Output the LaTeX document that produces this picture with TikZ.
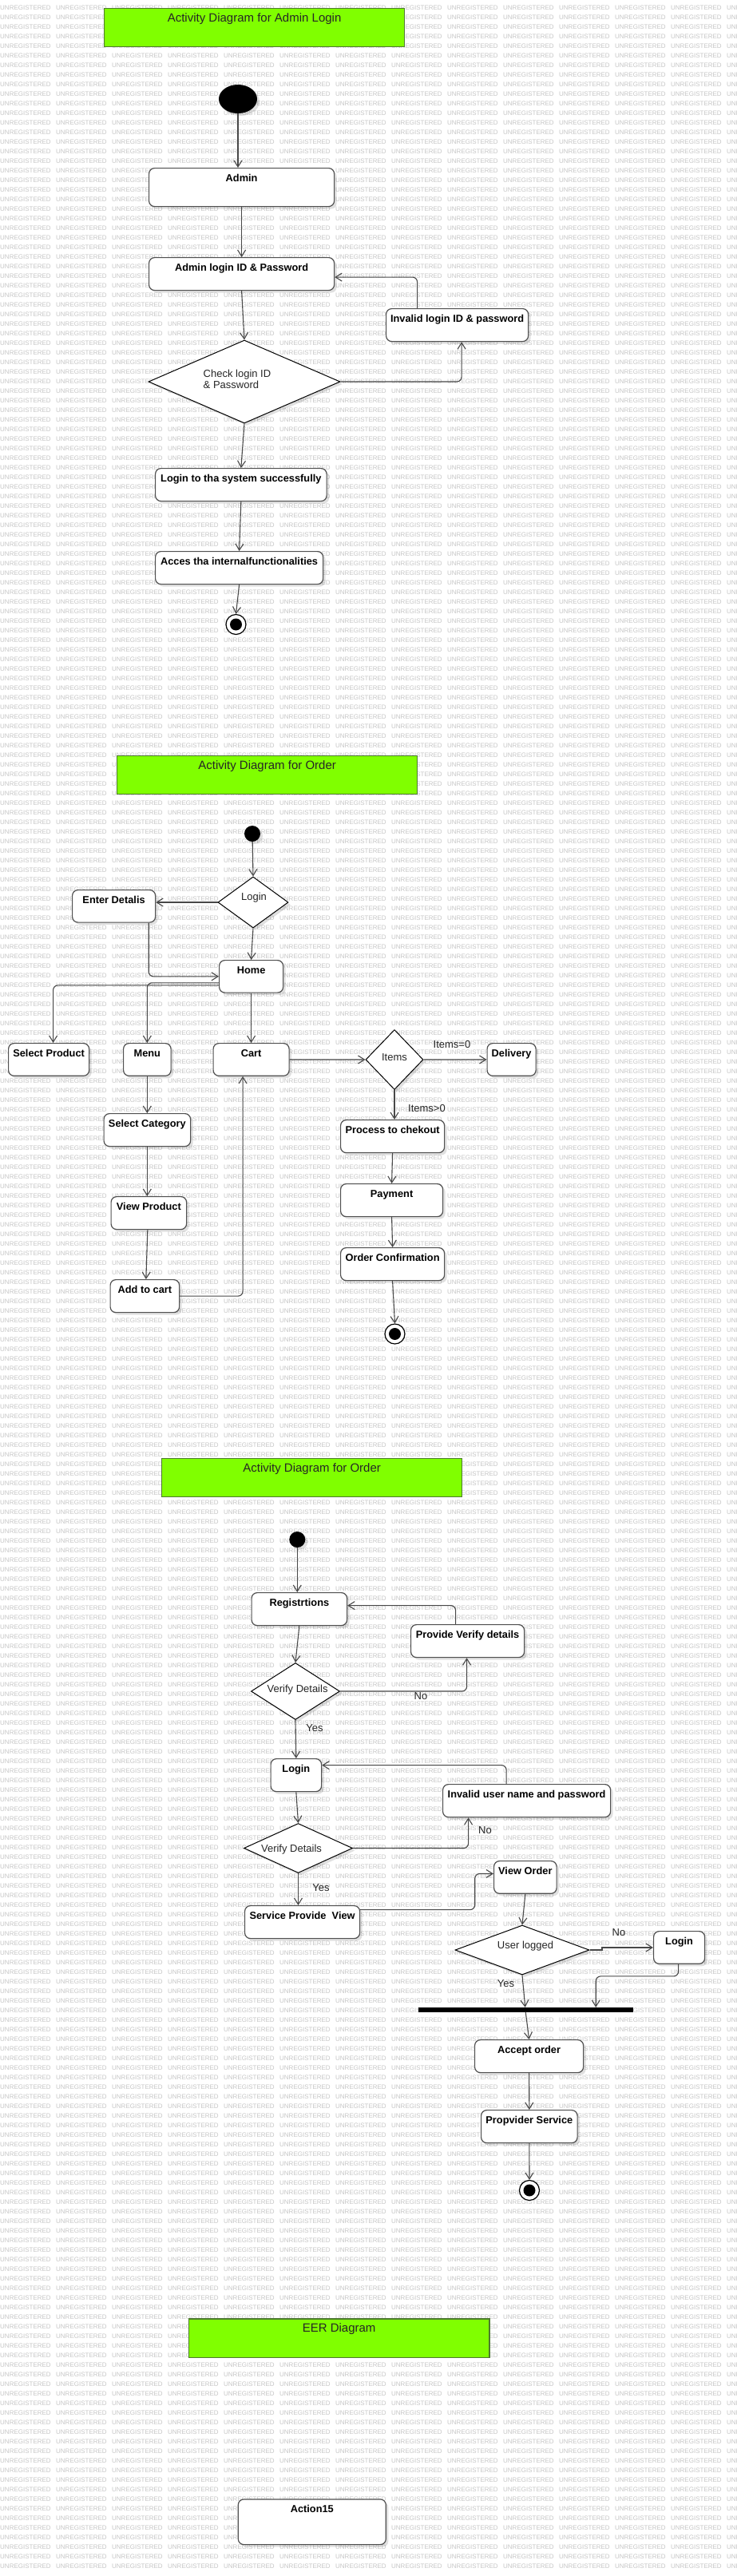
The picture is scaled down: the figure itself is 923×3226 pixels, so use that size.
\documentclass[tikz,border=0pt]{standalone}
\usepackage{fontspec}
\setmainfont{Liberation Sans}
\usetikzlibrary{arrows.meta,shapes.geometric,shadows,calc}
\definecolor{boxc}{HTML}{505050}
\definecolor{linec}{HTML}{484848}
\definecolor{titlefill}{HTML}{80FF00}
\definecolor{titledraw}{HTML}{4E7A30}
\definecolor{wmc}{HTML}{C6C6C6}
\newcommand\wmword{\makebox[70pt][l]{UNREGISTERED}}
\newcommand\wmline{\wmword\wmword\wmword\wmword\wmword\wmword\wmword\wmword\wmword\wmword\wmword\wmword\wmword\wmword}
\begin{document}
\begin{tikzpicture}[x=1pt,y=-1pt,
  shad/.style={drop shadow={shadow xshift=3pt,shadow yshift=-3pt,opacity=0.12,fill=black}},
  box/.style 2 args={draw=boxc,line width=1.2pt,fill=white,rounded corners=7pt,anchor=north west,
    inner xsep=1pt,inner ysep=0pt,text height=17pt,minimum width=#1,text depth=#2pt,
    font=\bfseries\fontsize{12.8}{15}\selectfont,shad},
  ttl/.style 2 args={draw=titledraw,line width=1.2pt,fill=titlefill,anchor=north west,
    inner xsep=0pt,inner ysep=0pt,text height=17pt,minimum width=#1,text depth=#2pt,
    text=black!85,font=\fontsize{15}{18}\selectfont},
  dia/.style 2 args={diamond,draw=black,line width=1pt,fill=white,inner sep=0pt,
    minimum width=#1,minimum height=#2,shad},
  dtxt/.style={inner sep=0pt,text=black!85,font=\fontsize{13}{13.7}\selectfont},
  lab/.style={inner sep=0pt,text=black!85,font=\fontsize{13}{15}\selectfont},
  initn/.style={circle,fill=black,minimum size=20,inner sep=0pt,shad},
  fin/.style={circle,draw=black,line width=1.2pt,fill=white,minimum size=25,inner sep=0pt,
    path picture={\fill[black] (path picture bounding box.center) circle (7.5pt);}},
  forkbar/.style={fill=black,draw=none,minimum width=269.5,minimum height=5.5,inner sep=0pt},
  conn/.style={draw=linec,line width=1.1pt,rounded corners=6pt,-{Straight Barb[length=8pt,width=10pt]}},
  wm/.style={inner sep=0pt,text=wmc,font=\fontsize{8}{8}\selectfont}
]
\useasboundingbox (0,0) rectangle (923,3226);
\fill[white] (0,0) rectangle (923,3226);
% watermark
\begin{scope}
\clip (0,0) rectangle (923,3226);
\foreach \k in {0,...,267}{
  \node[wm,anchor=base west] (wm\k) at (0,{12+12*\k}) {\wmline};
}
\end{scope}

% ---------------- Diagram 1 ----------------
\node[ttl={376}{31}] (t1) at (130,10) {Activity Diagram for Admin Login};
\node[ellipse,fill=black,minimum width=48,minimum height=36,inner sep=0pt,shad] (s1) at (298,124) {};
\node[box={232}{31}] (admin) at (186,210) {Admin};
\node[box={232}{24}] (alogin) at (186,322) {Admin login ID \& Password};
\node[box={178}{24}] (inval) at (483,386) {Invalid login ID \& password};
\node[dia={240}{104}] (check) at (306,478) {};
\node[dtxt,align=left] (checkT) at (297,475) {Check login ID\\\& Password};
\node[box={214.5}{24}] (succ) at (194,586) {Login to tha system successfully};
\node[box={210}{24}] (acc) at (194,690) {Acces tha internalfunctionalities};
\node[fin] (f1) at (295.5,782) {};

\draw[conn] (s1) -- (admin.north -| s1);
\draw[conn] (admin.south) -- (alogin.north);
\draw[conn] (alogin.south) -- (check.north);
\draw[conn] (check.south) -- (succ.north);
\draw[conn] (succ.south) -- (acc.north);
\draw[conn] (acc.south) -- (f1.north);
\draw[conn] (check.east) -| ($(inval.south)+(5.5,0)$);
\draw[conn] ($(inval.north)+(-50,0)$) |- ($(alogin.east)+(0,4)$);

% ---------------- Diagram 2 ----------------
\node[ttl={376}{30.5}] (t2) at (146,946) {Activity Diagram for Order};
\node[initn] (s2) at (316,1044) {};
\node[dia={88}{64}] (logind) at (317,1130) {};
\node[dtxt] (logindT) at (318,1124) {Login};
\node[box={104}{23.5}] (enter) at (90,1114) {Enter Detalis};
\node[box={80}{23.5}] (home) at (274,1202) {Home};
\node[box={101}{23.7}] (selprod) at (10,1306) {Select Product};
\node[box={59.5}{23.7}] (menu) at (154,1306) {Menu};
\node[box={95}{23.7}] (cart) at (266.5,1306) {Cart};
\node[dia={72}{75}] (items) at (494,1327) {};
\node[dtxt] (itemsT) at (494,1324) {Items};
\node[box={61}{23.7}] (deliv) at (609.5,1306) {Delivery};
\node[box={130}{24}] (proc) at (426,1402) {Process to chekout};
\node[box={128}{24}] (pay) at (426,1482) {Payment};
\node[box={130}{24}] (ordc) at (426,1562) {Order Confirmation};
\node[fin] (f2) at (494.5,1670.5) {};
\node[box={108.5}{24}] (selcat) at (129.5,1394) {Select Category};
\node[box={94.5}{24}] (viewp) at (138.5,1498) {View Product};
\node[box={86.5}{24}] (addc) at (137.5,1602) {Add to cart};

\draw[conn] (s2) -- (logind.north);
\draw[conn] (logind.west) -- (logind.west -| enter.east);
\draw[conn] ($(enter.south east)+(-9,0)$) |- (home.west);
\draw[conn] (logind.south) -- (home.north);
\draw[conn] ($(home.west)+(0,8)$) -| (menu.north);
\draw[conn] ($(home.west)+(0,11)$) -| ($(selprod.north)+(5.5,0)$);
\draw[conn] (home.south) -- (cart.north);
\draw[conn] (cart.east) -- (items.west);
\draw[conn] (items.east) -- (deliv.west);
\node[lab] (l0) at (566,1308) {Items=0};
\draw[conn] (items.south) -- (items.south |- proc.north);
\node[lab] (lg0) at (534.5,1388) {Items>0};
\draw[conn] (proc.south) -- (pay.north);
\draw[conn] (pay.south) -- (ordc.north);
\draw[conn] (ordc.south) -- (f2.north);
\draw[conn] (menu.south) -- (menu.south |- selcat.north);
\draw[conn] (selcat.south) -- (selcat.south |- viewp.north);
\draw[conn] ($(viewp.south)+(-1.5,0)$) -- ($(addc.north)+(1.5,0)$);
\draw[conn] (addc.east) -| ($(cart.south)+(-10.5,0)$);

% ---------------- Diagram 3 ----------------
\node[ttl={376}{31}] (t3) at (202,1826) {Activity Diagram for Order};
\node[initn] (s3) at (372.3,1928) {};
\node[box={119.5}{24}] (reg) at (314.5,1994) {Registrtions};
\node[box={142}{24}] (prov) at (514,2034) {Provide Verify details};
\node[dia={111}{71}] (vd1) at (370,2118) {};
\node[dtxt] (vd1T) at (372.6,2116) {Verify Details};
\node[box={63.5}{24}] (login3) at (338.5,2202) {Login};
\node[box={210}{24}] (inv2) at (554,2234) {Invalid user name and password};
\node[dia={136}{62}] (vd2) at (373.5,2314.5) {};
\node[dtxt] (vd2T) at (365,2316) {Verify Details};
\node[box={144}{24}] (serv) at (306,2386) {Service Provide\ \ View};
\node[box={78.5}{23.7}] (vord) at (618,2330) {View Order};
\node[dia={168}{62}] (ulog) at (654,2442) {};
\node[dtxt] (ulogT) at (658,2437) {User logged};
\node[box={64}{23.7}] (login4) at (818,2418) {Login};
\node[forkbar] (fbar) at (658.25,2516.75) {};
\node[box={136}{24}] (accept) at (594,2554) {Accept order};
\node[box={120.5}{24}] (provs) at (602,2642) {Propvider Service};
\node[fin] (f3) at (663,2743) {};

\draw[conn] (s3) -- (s3 |- reg.north);
\draw[conn] ($(prov.north)+(-15,0)$) |- ($(reg.east)+(0,-4.5)$);
\draw[conn] (reg.south) -- (vd1.north);
\draw[conn] (vd1.east) -| ($(prov.south)+(-1,0)$);
\node[lab] (no1) at (527,2124) {No};
\draw[conn] (vd1.south) -- (login3.north);
\node[lab] (yes1) at (394,2164) {Yes};
\draw[conn] ($(inv2.north)+(-25.5,0)$) |- ($(login3.east)+(0,-12.5)$);
\draw[conn] (login3.south) -- (vd2.north);
\draw[conn] (vd2.east) -| ($(inv2.south)+(-73,0)$);
\node[lab] (no2) at (607.5,2292) {No};
\draw[conn] (vd2.south) -- (vd2.south |- serv.north);
\node[lab] (yes2) at (402,2364) {Yes};
\draw[conn] ($(serv.east)+(0,-15.5)$) -- ++(143.5,0) |- ($(vord.west)+(0,-4.5)$);
\draw[conn] (vord.south) -- (ulog.north);
\draw[conn,sharp corners] (ulog.east) -- ++(15.5,0) |- (login4.west);
\node[lab] (no3) at (775,2420) {No};
\draw[conn] ($(login4.south)+(-1,0)$) -- ++(0,15) -| ($(fbar.north)+(88,0)$);
\draw[conn] (ulog.south) -- ($(fbar.north)+(-0.5,0)$);
\node[lab] (yes3) at (633.5,2484) {Yes};
\draw[conn] (fbar.south) -- (accept.north);
\draw[conn] (accept.south) -- (provs.north);
\draw[conn] (provs.south) -- (f3.north);

% ---------------- Diagram 4 ----------------
\node[ttl={376.6}{31.4}] (t4) at (235.7,2903.3) {EER Diagram};
\node[box={185}{39.7}] (act15) at (297.7,3129.3) {Action15};
\end{tikzpicture}
\end{document}
